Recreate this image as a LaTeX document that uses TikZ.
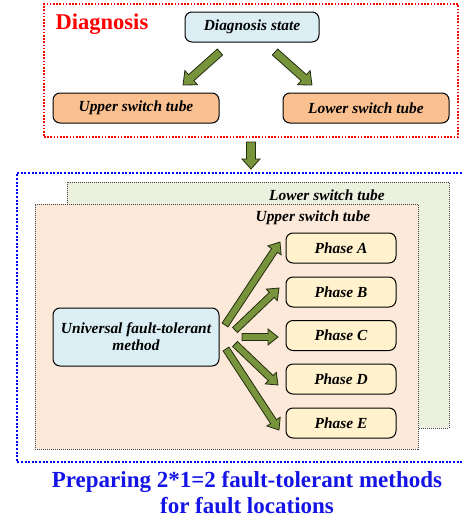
\documentclass[tikz,border=0pt]{standalone}
\usepackage{fontspec}
\setmainfont{Liberation Serif}
\usetikzlibrary{calc}

\definecolor{stateblue}{HTML}{DAEEF3}
\definecolor{tubeorange}{HTML}{FAC090}
\definecolor{phaseyellow}{HTML}{FFF2CC}
\definecolor{panelpeach}{HTML}{FDE9D9}
\definecolor{panelgreen}{HTML}{EBF1DE}
\definecolor{arrowgreen}{HTML}{77933C}
\definecolor{arrowedge}{HTML}{232C10}
\definecolor{titleblue}{HTML}{1414E6}

\tikzset{
  box/.style={draw=black, line width=1pt, rounded corners=7pt, inner sep=0pt,
    font=\fontsize{15.4}{17}\selectfont\bfseries\itshape, align=center},
  statebox/.style={box, fill=stateblue},
  tubebox/.style={box, fill=tubeorange, minimum width=166pt, minimum height=30pt},
  phasebox/.style={box, fill=phaseyellow, minimum width=110pt, minimum height=30pt},
  panel/.style={draw=black!75, densely dotted, line width=1pt, inner sep=0pt},
  panellabel/.style={font=\fontsize{15.4}{17}\selectfont\bfseries\itshape, inner sep=0pt},
  fatarrow/.style={draw=arrowedge, fill=arrowgreen, line width=0.8pt, line join=miter},
}

% block arrow from #1 to #2: shaft half width #3, head half width #4, head length #5
\newcommand\blockarrow[5]{%
  \path[fatarrow] let \p1=(#1), \p2=(#2),
      \n1={atan2(\y2-\y1,\x2-\x1)}, \n2={veclen(\x2-\x1,\y2-\y1)} in
    [shift={(\p1)}, rotate=\n1]
    (0,-#3) -- (\n2-#5,-#3) -- (\n2-#5,-#4) -- (\n2,0) -- (\n2-#5,#4)
    -- (\n2-#5,#3) -- (0,#3) -- cycle;}

\begin{document}
\begin{tikzpicture}[x=1pt, y=-1pt]
  \useasboundingbox (0,0) rectangle (462,520);

  % ---------- diagnosis stage ----------
  \node[draw=red, line width=1.2pt, dash pattern=on 1.6pt off 1.6pt,
        minimum width=414pt, minimum height=133pt, inner sep=0pt]
        (redframe) at (251,70.5) {};
  \node[text=red, font=\fontsize{22.5}{26}\selectfont\bfseries, inner sep=0pt]
        (diagtitle) at (102,24) {Diagnosis};
  \node[statebox, minimum width=134pt, minimum height=30pt] (ds) at (252,27) {Diagnosis state};
  \node[tubebox] (ust) at (136,108) {Upper switch tube};
  \node[tubebox] (lst) at (366,108) {Lower switch tube};

  \coordinate (dsl) at (220,52);  \coordinate (ustt) at (183,85);
  \coordinate (dsr) at (275,52);  \coordinate (lstt) at (312,85);
  \blockarrow{dsl}{ustt}{4}{9.5}{11}
  \blockarrow{dsr}{lstt}{4}{9.5}{11}

  % ---------- transition ----------
  \coordinate (downs) at (251,142);
  \coordinate (downe) at (251,169);
  \blockarrow{downs}{downe}{4.5}{9}{10}

  % ---------- fault-tolerant stage ----------
  \draw[draw=blue, line width=1.2pt, dash pattern=on 2pt off 1.6pt]
    (462,173) -- (17,173) -- (17,462) -- (462,462);

  \node[panel, fill=panelgreen, minimum width=382pt, minimum height=246pt] (lowpanel) at (258,305) {};
  \node[panellabel] (lowlabel) at (327,195) {Lower switch tube};
  \node[panel, fill=panelpeach, minimum width=383pt, minimum height=245pt] (uppanel) at (226.5,326.5) {};
  \node[panellabel] (uplabel) at (313,218) {Upper switch tube};

  \node[statebox, minimum width=166pt, minimum height=58pt] (uni) at (136,337)
       {Universal fault-tolerant\\method};

  \node[phasebox] (pa) at (341,248) {Phase A};
  \node[phasebox] (pb) at (341,292) {Phase B};
  \node[phasebox] (pc) at (341,335.5) {Phase C};
  \node[phasebox] (pd) at (341,379) {Phase D};
  \node[phasebox] (pe) at (341,423) {Phase E};

  \coordinate (ua) at (225,325); \coordinate (ta) at (280,242);
  \coordinate (ub) at (235,330); \coordinate (tb) at (279,288);
  \coordinate (uc) at (242,337); \coordinate (tc) at (278,337);
  \coordinate (ud) at (235,344); \coordinate (td) at (278,385);
  \coordinate (ue) at (226,349); \coordinate (te) at (279,430);
  \blockarrow{ua}{ta}{3.5}{8}{10}
  \blockarrow{ub}{tb}{3.5}{8}{10}
  \blockarrow{uc}{tc}{3.5}{8}{10}
  \blockarrow{ud}{td}{3.5}{8}{10}
  \blockarrow{ue}{te}{3.5}{8}{10}

  \node[text=titleblue, font=\fontsize{23}{26}\selectfont\bfseries, align=center, inner sep=0pt]
       (summary) at (247,493) {Preparing 2*1=2 fault-tolerant methods\\for fault locations};
\end{tikzpicture}
\end{document}
